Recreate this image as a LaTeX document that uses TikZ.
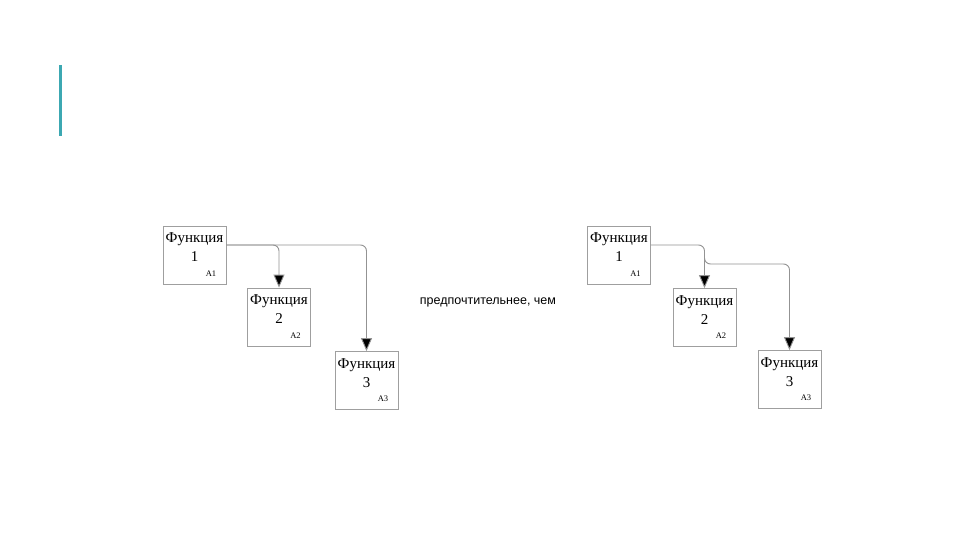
\documentclass[tikz,border=0pt]{standalone}
\usepackage{fontspec}
\setmainfont{Liberation Serif}
\newfontfamily\sansf{Liberation Sans}
\usetikzlibrary{arrows.meta}
\definecolor{barteal}{RGB}{60,168,178}
\tikzset{
  fbox/.style={draw=gray!75, line width=0.8pt, minimum width=63pt, minimum height=58pt, inner sep=0pt},
  fname/.style={font=\fontsize{15}{19}\selectfont, inner sep=0pt, align=center},
  fnum/.style={font=\fontsize{8.5}{9}\selectfont, inner sep=0pt},
  conn/.style={draw=gray!85, line width=0.9pt, -{Triangle[length=13pt,width=11pt,fill=black]}},
}
\begin{document}
\begin{tikzpicture}[x=1pt,y=-1pt]
\useasboundingbox[fill=white] (0,0) rectangle (960,540);
\fill[barteal] (59,65) rectangle (61.5,136);

% left diagram
\node[fbox] (l1) at (194.5,255) {};
\node[fbox] (l2) at (279,317) {};
\node[fbox] (l3) at (366.5,380.5) {};
% right diagram
\node[fbox] (r1) at (619,255) {};
\node[fbox] (r2) at (704.5,317.5) {};
\node[fbox] (r3) at (789.5,379.5) {};

\foreach \b/\n in {l1/1,l2/2,l3/3,r1/1,r2/2,r3/3}{
  \node[fname, anchor=north] (\b t) at ([yshift=-7pt]\b.north) {Функция\\\n};
  \node[fnum, anchor=south east] (\b c) at ([xshift=-10pt,yshift=8pt]\b.south east) {A\n};
}

\node[font=\sansf\fontsize{12.5}{14}\selectfont, inner sep=0pt] (mid) at (488,302) {предпочтительнее, чем};

% connectors left
\draw[conn, rounded corners=6pt] ([yshift=10pt]l1.east) -| (l2.north);
\draw[conn, rounded corners=6pt] ([yshift=10pt]l1.east) -| (l3.north);
% connectors right
\draw[conn, rounded corners=6pt] ([yshift=10pt]r1.east) -| (r2.north);
\coordinate (rj) at (704.5,256);
\coordinate (rh) at (789.5,264);
\draw[conn, rounded corners=6pt] (rj) |- (rh) -- (r3.north);
\end{tikzpicture}
\end{document}
